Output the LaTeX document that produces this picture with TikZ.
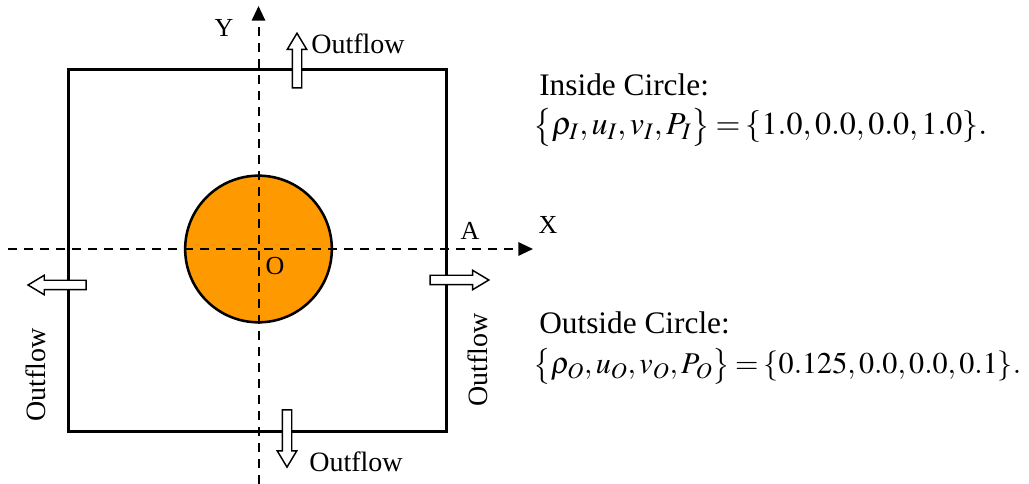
\documentclass[tikz,border=0pt]{standalone}
\usepackage{mathptmx}
\usepackage[no-math]{fontspec}
\setmainfont{Liberation Serif}
\usetikzlibrary{arrows.meta,positioning,shapes.arrows}
\definecolor{discorange}{RGB}{255,153,0}

\begin{document}
\begin{tikzpicture}[
  x=0.75pt, y=-0.75pt,
  >={Triangle[length=11pt,width=10pt]},
  node distance=2pt and 2pt,
  axis/.style={->, line width=1.5pt, dash pattern=on 7pt off 5pt},
  wallbox/.style={draw, line width=2.2pt, minimum width=284pt, minimum height=271pt, inner sep=0pt},
  disc/.style={circle, draw, line width=1.9pt, fill=discorange, minimum size=110pt, inner sep=0pt},
  outarrow/.style={single arrow, draw, line width=1.1pt, fill=white, inner sep=0pt, inner ysep=3pt,
    single arrow head extend=3.75pt, single arrow tip angle=62, minimum height=#1},
  lbl/.style={font=\fontsize{19.5}{22}\selectfont, inner sep=1pt},
  flow/.style={font=\fontsize{21}{24}\selectfont, inner sep=1pt},
  info/.style={font=\fontsize{23.5}{28}\selectfont, anchor=west, inner sep=0pt}
]
\useasboundingbox (0,0) rectangle (1029,484);

\node[wallbox] (box) at (257.5,250.5) {};
\node[disc] (disc) at (258.5,249) {};

% axes
\coordinate (xL) at (8,249);
\coordinate (xR) at (533,249);
\coordinate (yB) at (258.5,484);
\coordinate (yT) at (258.5,6);
\draw[axis] (xL) -- (xR);
\draw[axis] (yB) -- (yT);

\node[lbl] (X) at (548,225) {X};
\node[lbl] (Y) at (224,28) {Y};
\node[lbl] (A) at (470,231) {A};
\node[lbl] (O) at (275,266) {O};

% outflow arrows
\node[outarrow=41pt, rotate=90] (upA) at (297,64.5) {};
\node[outarrow=43pt, rotate=-90] (downA) at (287,434.5) {};
\node[outarrow=43.5pt, rotate=180] (leftA) at (61,285) {};
\node[outarrow=44pt] (rightA) at (455.5,280) {};

\node[flow] (upL) at (358,44) {Outflow};
\node[flow] (downL) at (356,462) {Outflow};
\node[flow, rotate=90] (leftL) at (36,375) {Outflow};
\node[flow, rotate=90] (rightL) at (478,360) {Outflow};

% initial states
\node[info] (inT) at (539,85) {Inside Circle:};
\node[info, font=\fontsize{24}{28}\selectfont] (inV) at (533,127) {$\thickmuskip=3mu \bigl\{\rho_{I},u_{I},v_{I},P_{I}\bigr\}=\{1.0,0.0,0.0,1.0\}.$};
\node[info] (outT) at (539,323) {Outside Circle:};
\node[info, font=\fontsize{22.6}{27}\selectfont] (outV) at (533,366) {$\thickmuskip=3mu \bigl\{\rho_{O},u_{O},v_{O},P_{O}\bigr\}=\{0.125,0.0,0.0,0.1\}.$};

\end{tikzpicture}
\end{document}
